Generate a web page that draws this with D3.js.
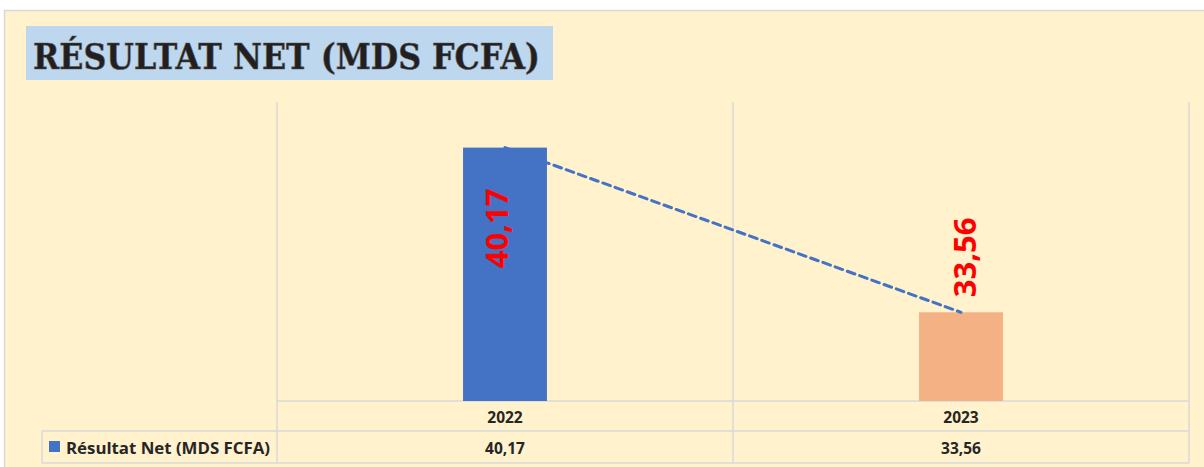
<!DOCTYPE html>
<html>
<head>
<meta charset="utf-8">
<script src="https://cdn.jsdelivr.net/npm/d3@7"></script>
<style>
  body { margin: 0; background: #ffffff; }
  svg { display: block; }
</style>
</head>
<body>
<div id="chart"></div>
<script>
// data
var years = ["2022", "2023"];
var values = [40.17, 33.56];
var valueLabels = ["40,17", "33,56"];
var barColors = ["#4472C4", "#F4B183"];
var seriesName = "Résultat Net (MDS FCFA)";
var titleText = "RÉSULTAT NET (MDS FCFA)";

var W = 1204, H = 467;

var svg = d3.select("#chart").append("svg")
  .attr("width", W)
  .attr("height", H);

// cream panel
svg.append("rect")
  .attr("x", 4.5).attr("y", 10.5)
  .attr("width", W + 10).attr("height", H)
  .attr("fill", "#FFF2CC")
  .attr("stroke", "#D9D9D9")
  .attr("stroke-width", 1.5);

// title box
svg.append("rect")
  .attr("x", 26).attr("y", 26)
  .attr("width", 527).attr("height", 54)
  .attr("fill", "#BDD7EE");

svg.append("text")
  .attr("x", 33).attr("y", 69)
  .attr("textLength", 507)
  .attr("lengthAdjust", "spacingAndGlyphs")
  .style("font-family", "'DejaVu Serif', serif")
  .style("font-weight", "bold")
  .style("font-size", "36px")
  .style("fill", "#231F20")
  .style("stroke", "#555")
  .style("stroke-width", 0.6)
  .text(titleText);

var plotLeft = 277, plotRight = 1189, plotTop = 102, baseY = 401;
var row1 = 431, row2 = 463, legendLeft = 42;

var x = d3.scaleBand()
  .domain(years)
  .range([plotLeft, plotRight])
  .padding(0);

var y = d3.scaleLinear()
  .domain([30, 42])
  .range([baseY, plotTop]);

var barW = x.bandwidth() * 0.184;
var grid = "#D9D9D9";

// vertical grid / table lines
var vLines = [plotLeft].concat(years.map(function (d) { return x(d) + x.bandwidth(); }));
svg.selectAll("line.v")
  .data(vLines)
  .enter().append("line")
  .attr("class", "v")
  .attr("x1", function (d) { return d; })
  .attr("x2", function (d) { return d; })
  .attr("y1", plotTop).attr("y2", row2)
  .attr("stroke", grid).attr("stroke-width", 1.5);

svg.append("line")
  .attr("x1", legendLeft).attr("x2", legendLeft)
  .attr("y1", row1).attr("y2", row2)
  .attr("stroke", grid).attr("stroke-width", 1.5);

svg.append("line")
  .attr("x1", plotLeft).attr("x2", plotRight)
  .attr("y1", baseY).attr("y2", baseY)
  .attr("stroke", grid).attr("stroke-width", 1.5);

[row1, row2].forEach(function (yy) {
  svg.append("line")
    .attr("x1", legendLeft).attr("x2", plotRight)
    .attr("y1", yy).attr("y2", yy)
    .attr("stroke", grid).attr("stroke-width", 1.5);
});

// bars
var data = years.map(function (d, i) {
  return { year: d, value: values[i], label: valueLabels[i], color: barColors[i] };
});

svg.selectAll("rect.bar")
  .data(data)
  .enter().append("rect")
  .attr("class", "bar")
  .attr("x", function (d) { return x(d.year) + (x.bandwidth() - barW) / 2; })
  .attr("y", function (d) { return y(d.value); })
  .attr("width", barW)
  .attr("height", function (d) { return baseY - y(d.value); })
  .attr("fill", function (d) { return d.color; });

// dashed trend line
var line = d3.line()
  .x(function (d) { return x(d.year) + x.bandwidth() / 2; })
  .y(function (d) { return y(d.value); });

svg.append("path")
  .datum(data)
  .attr("d", line)
  .attr("fill", "none")
  .attr("stroke", "#4472C4")
  .attr("stroke-width", 3)
  .attr("stroke-dasharray", "8,5")
  .attr("stroke-linecap", "round");

// rotated value labels: first inside the bar, second above it
svg.selectAll("text.val")
  .data(data)
  .enter().append("text")
  .attr("class", "val")
  .attr("transform", function (d, i) {
    var cx = x(d.year) + x.bandwidth() / 2;
    var yy = i === 0 ? y(d.value) + 41 : y(d.value) - 15;
    var dx = i === 0 ? 3 : 15;
    return "translate(" + (cx + dx) + "," + yy + ") rotate(-90)";
  })
  .attr("text-anchor", function (d, i) { return i === 0 ? "end" : "start"; })
  .style("font-family", "'Open Sans', sans-serif")
  .style("font-weight", "bold")
  .style("font-size", "31px")
  .style("fill", "#FF0000")
  .text(function (d) { return d.label; });

// table text
var tableFont = "'Open Sans', sans-serif";
svg.selectAll("text.year")
  .data(data)
  .enter().append("text")
  .attr("class", "year")
  .attr("x", function (d) { return x(d.year) + x.bandwidth() / 2; })
  .attr("y", 423)
  .attr("text-anchor", "middle")
  .style("font-family", tableFont)
  .style("font-weight", "bold")
  .style("font-size", "15.5px")
  .style("fill", "#262626")
  .text(function (d) { return d.year; });

svg.selectAll("text.cell")
  .data(data)
  .enter().append("text")
  .attr("class", "cell")
  .attr("x", function (d) { return x(d.year) + x.bandwidth() / 2; })
  .attr("y", 454)
  .attr("text-anchor", "middle")
  .style("font-family", tableFont)
  .style("font-weight", "bold")
  .style("font-size", "15.5px")
  .style("fill", "#262626")
  .text(function (d) { return d.label; });

// legend key
svg.append("rect")
  .attr("x", 49).attr("y", 441)
  .attr("width", 11).attr("height", 11)
  .attr("fill", barColors[0]);

svg.append("text")
  .attr("x", 66).attr("y", 454)
  .attr("textLength", 204)
  .attr("lengthAdjust", "spacingAndGlyphs")
  .style("font-family", tableFont)
  .style("font-weight", "bold")
  .style("font-size", "16px")
  .style("fill", "#262626")
  .text(seriesName);
</script>
</body>
</html>
